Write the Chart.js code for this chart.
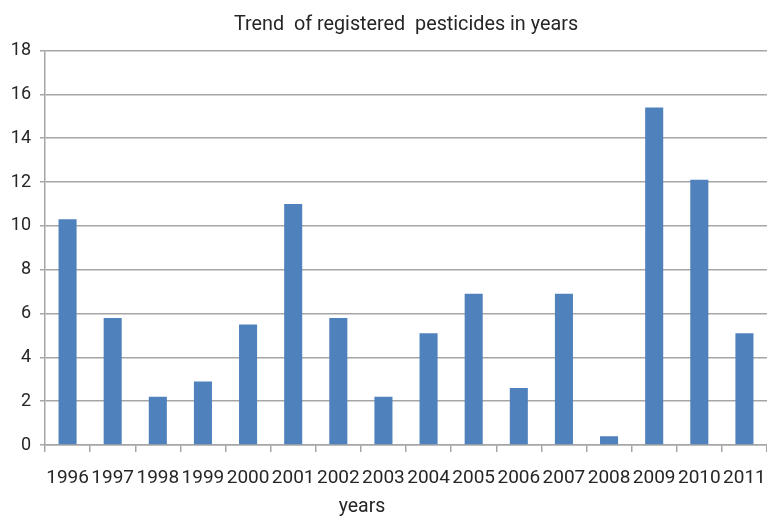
<!DOCTYPE html>
<html>
<head>
<meta charset="utf-8">
<script src="https://cdn.jsdelivr.net/npm/chart.js@4/dist/chart.umd.min.js"></script>
<style>
  html, body { margin: 0; padding: 0; background: #ffffff; }
  #wrap { width: 767px; height: 521px; position: relative; }
</style>
</head>
<body>
<div id="wrap"><canvas id="chart"></canvas></div>
<script>
// Registered pesticides per year
const years = ['1996', '1997', '1998', '1999', '2000', '2001', '2002', '2003',
               '2004', '2005', '2006', '2007', '2008', '2009', '2010', '2011'];
const registered = [10.3, 5.8, 2.2, 2.9, 5.5, 11.0, 5.8, 2.2,
                    5.1, 6.9, 2.6, 6.9, 0.4, 15.4, 12.1, 5.1];
const yTicks = [0, 2, 4, 6, 8, 10, 12, 14, 16, 18];

const chartTitle = 'Trend  of registered  pesticides in years';
const xAxisTitle = 'years';

const FONT = 'Roboto, "Liberation Sans", sans-serif';
const INK = '#262626';
const GRID = '#a6a6a6';

// Title over the plot area and the axis caption below the year labels
const headings = {
  id: 'headings',
  afterDraw(chart) {
    const { ctx, chartArea } = chart;
    ctx.save();
    ctx.fillStyle = INK;
    ctx.textAlign = 'center';
    ctx.textBaseline = 'alphabetic';
    ctx.font = '19.8px ' + FONT;
    ctx.fillText(chartTitle, (chartArea.left + chartArea.right) / 2, 30);
    ctx.font = '19.5px ' + FONT;
    ctx.fillText(xAxisTitle, chart.width * 0.472, 512);
    ctx.restore();
  }
};

new Chart(document.getElementById('chart'), {
  type: 'bar',
  data: {
    labels: years,
    datasets: [{
      data: registered,
      backgroundColor: '#4f81bd',
      borderWidth: 0,
      barPercentage: 0.4,
      categoryPercentage: 1.0
    }]
  },
  options: {
    responsive: true,
    maintainAspectRatio: false,
    animation: false,
    layout: { padding: { top: 50.5, left: 10, right: 0, bottom: 30 } },
    plugins: {
      legend: { display: false },
      title: { display: false },
      tooltip: { enabled: false }
    },
    scales: {
      x: {
        afterFit(axis) { axis.height = 46; },
        grid: {
          display: true,
          drawOnChartArea: false,
          drawTicks: true,
          tickLength: 7,
          color: GRID,
          lineWidth: 1.5
        },
        border: { display: true, color: GRID, width: 1.5 },
        ticks: {
          color: INK,
          font: { family: FONT, size: 19, lineHeight: 2.8 },
          padding: 0,
          maxRotation: 0,
          autoSkip: false
        }
      },
      y: {
        min: 0,
        max: 18,
        afterBuildTicks(axis) { axis.ticks = yTicks.map(v => ({ value: v })); },
        afterFit(axis) { axis.width = 35; },
        grid: {
          color: GRID,
          lineWidth: 1.5,
          drawTicks: true,
          tickLength: 5
        },
        border: { display: true, color: GRID, width: 1.5 },
        ticks: {
          color: INK,
          font: { family: FONT, size: 18 },
          padding: 9
        }
      }
    }
  },
  plugins: [headings]
});
</script>
</body>
</html>
